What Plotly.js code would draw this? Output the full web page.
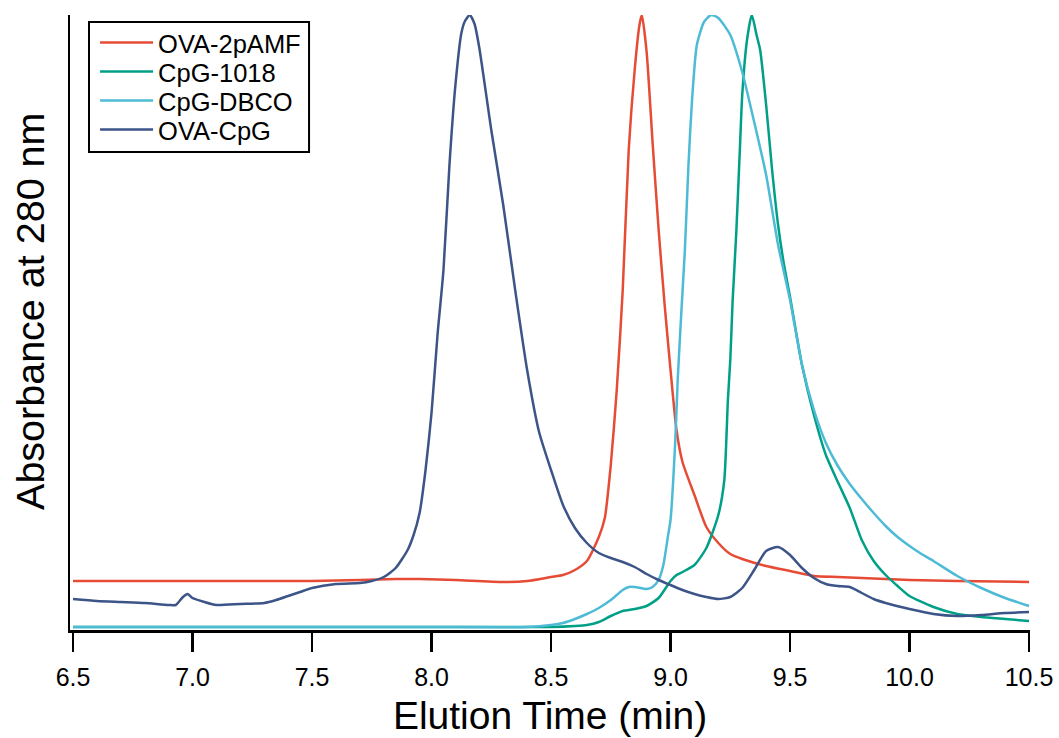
<!DOCTYPE html>
<html>
<head>
<meta charset="utf-8">
<script src="https://cdn.plot.ly/plotly-3.0.1.min.js"></script>
<style>html,body{margin:0;padding:0;background:#fff;}#chart{width:1059px;height:738px;}</style>
</head>
<body>
<div id="chart"></div>
<script>
// Elution time (min) and absorbance at 280 nm (arbitrary units)
const seriesNames = ["OVA-2pAMF", "CpG-1018", "CpG-DBCO", "OVA-CpG"];
const seriesColors = ["#E64B35", "#00A087", "#4DBBD5", "#3C5488"];

const ova2pamfTime = [6.5, 6.7, 6.9, 7.1, 7.3, 7.5, 7.7, 7.85, 7.95, 8.1, 8.3, 8.4, 8.5, 8.55, 8.6, 8.65, 8.7, 8.725, 8.75, 8.775, 8.8, 8.825, 8.85, 8.87, 8.88, 8.9, 8.925, 8.95, 8.975, 9.0, 9.025, 9.05, 9.1, 9.15, 9.2, 9.25, 9.3, 9.4, 9.5, 9.6, 9.7, 9.8, 9.9, 10.0, 10.2, 10.5];
const ova2pamfAbs  = [49, 49, 49, 49, 49, 49, 50, 51, 51, 50, 48, 49, 53, 55, 60, 69, 93, 112, 165, 240, 340, 480, 560, 605, 615, 578, 487, 401, 326, 260, 200, 168, 135, 103, 87, 76, 71, 64, 59, 54, 53, 52, 51, 50, 49, 48];

const cpg1018Time = [6.5, 7.0, 7.5, 8.0, 8.4, 8.5, 8.6, 8.65, 8.7, 8.75, 8.8, 8.85, 8.9, 8.95, 9.0, 9.025, 9.05, 9.1, 9.15, 9.2, 9.225, 9.24, 9.25, 9.26, 9.275, 9.29, 9.3, 9.32, 9.34, 9.36, 9.375, 9.4, 9.425, 9.45, 9.475, 9.5, 9.55, 9.6, 9.65, 9.7, 9.75, 9.8, 9.85, 9.9, 9.95, 10.0, 10.1, 10.2, 10.3, 10.4, 10.5];
const cpg1018Abs  = [3, 3, 3, 3, 3, 3, 4, 5, 8, 14, 19, 21, 24, 32, 49, 55, 58, 65, 82, 115, 150, 230, 270, 330, 397, 480, 535, 590, 615, 595, 580, 525, 460, 405, 365, 333, 265, 215, 175, 148, 122, 90, 69, 55, 44, 34, 23, 16, 13, 11, 9];

const cpgdbcoTime = [6.5, 7.0, 7.5, 8.0, 8.4, 8.5, 8.55, 8.6, 8.65, 8.7, 8.75, 8.8, 8.825, 8.85, 8.9, 8.925, 8.95, 8.97, 8.99, 9.0, 9.02, 9.03, 9.045, 9.06, 9.075, 9.09, 9.11, 9.14, 9.17, 9.2, 9.25, 9.3, 9.35, 9.4, 9.45, 9.5, 9.55, 9.6, 9.65, 9.7, 9.75, 9.8, 9.85, 9.9, 9.95, 10.0, 10.05, 10.1, 10.2, 10.3, 10.4, 10.5];
const cpgdbcoAbs  = [3, 3, 3, 3, 3, 5, 7, 11, 16, 22, 30, 40, 43, 43, 41, 43, 50, 65, 95, 110, 190, 250, 317, 380, 465, 530, 585, 608, 615, 612, 595, 558, 508, 455, 385, 330, 265, 220, 187, 164, 146, 131, 117, 104, 93, 84, 76, 69, 54, 42, 32, 24];

const ovacpgTime = [6.5, 6.6, 6.7, 6.8, 6.9, 6.93, 6.96, 6.98, 7.0, 7.05, 7.1, 7.2, 7.3, 7.35, 7.4, 7.45, 7.5, 7.6, 7.7, 7.75, 7.8, 7.85, 7.9, 7.925, 7.95, 7.975, 8.0, 8.025, 8.05, 8.075, 8.1, 8.125, 8.14, 8.16, 8.18, 8.2, 8.25, 8.3, 8.35, 8.4, 8.45, 8.5, 8.55, 8.6, 8.65, 8.7, 8.75, 8.8, 8.85, 8.9, 8.95, 9.0, 9.05, 9.1, 9.15, 9.2, 9.25, 9.3, 9.35, 9.4, 9.45, 9.5, 9.55, 9.6, 9.65, 9.7, 9.75, 9.8, 9.85, 9.9, 10.0, 10.1, 10.2, 10.3, 10.4, 10.5];
const ovacpgAbs  = [31, 29, 28, 27, 25, 25, 33, 36, 32, 28, 25, 26, 27, 30, 34, 38, 42, 46, 47, 49, 53, 62, 80, 95, 117, 160, 217, 295, 360, 465, 545, 597, 609, 615, 606, 582, 500, 425, 340, 260, 198, 160, 125, 102, 87, 77, 72, 68, 63, 56, 50, 45, 40, 36, 33, 31, 33, 42, 60, 79, 83, 75, 62, 52, 46, 44, 43, 37, 31, 27, 21, 16, 14, 15, 17, 18];

const xTickVals = [6.5, 7.0, 7.5, 8.0, 8.5, 9.0, 9.5, 10.0, 10.5];
const xTickText = ["6.5", "7.0", "7.5", "8.0", "8.5", "9.0", "9.5", "10.0", "10.5"];
const xTitle = "Elution Time (min)";
const yTitle = "Absorbance at 280 nm";

const xs = [ova2pamfTime, cpg1018Time, cpgdbcoTime, ovacpgTime];
const ys = [ova2pamfAbs, cpg1018Abs, cpgdbcoAbs, ovacpgAbs];
const legendIds = ["legend", "legend2", "legend3", "legend4"];

const traces = seriesNames.map((n, i) => ({
  x: xs[i], y: ys[i], name: n, type: "scatter", mode: "lines",
  legend: legendIds[i],
  line: {color: seriesColors[i], width: 2.5, shape: "spline", smoothing: 0.6}
}));

const font = "Arial, 'Liberation Sans', Helvetica, sans-serif";
const legendY = [0.9545, 0.9073, 0.8602, 0.8130];

const layout = {
  width: 1059, height: 738,
  margin: {l: 70, r: 29, t: 15, b: 108},
  paper_bgcolor: "#fff", plot_bgcolor: "#fff",
  showlegend: true,
  xaxis: {
    range: [6.4874, 10.504], showgrid: false, zeroline: false,
    showline: true, linecolor: "#000", linewidth: 2.5,
    ticks: "outside", ticklen: 19, tickwidth: 2.5, tickcolor: "#000",
    tickmode: "array", tickvals: xTickVals, ticktext: xTickText,
    ticklabelstandoff: 4,
    tickfont: {family: font, size: 25, color: "#000"},
    title: {text: xTitle, font: {family: font, size: 39, color: "#000"}, standoff: 12}
  },
  yaxis: {
    range: [0, 615], showgrid: false, zeroline: false,
    showline: true, linecolor: "#000", linewidth: 2.5,
    ticks: "", showticklabels: false
  },
  shapes: [{
    type: "rect", xref: "paper", yref: "paper",
    x0: 0.0198, x1: 0.249, y0: 0.7772, y1: 0.9886,
    line: {color: "#000", width: 2}, fillcolor: "rgba(255,255,255,0)", layer: "above"
  }],
  annotations: [{
    text: yTitle, xref: "paper", yref: "paper", x: -0.0417, y: 0.5187,
    xanchor: "center", yanchor: "middle", textangle: -90, showarrow: false,
    font: {family: font, size: 39.5, color: "#000"}
  }]
};

legendIds.forEach((id, i) => {
  layout[id] = {
    x: 0.0261, y: legendY[i], xanchor: "left", yanchor: "middle",
    borderwidth: 0, bgcolor: "rgba(0,0,0,0)", itemwidth: 53,
    font: {family: font, size: 25.5, color: "#000"}
  };
});

Plotly.newPlot("chart", traces, layout, {displayModeBar: false, staticPlot: true});
</script>
</body>
</html>
